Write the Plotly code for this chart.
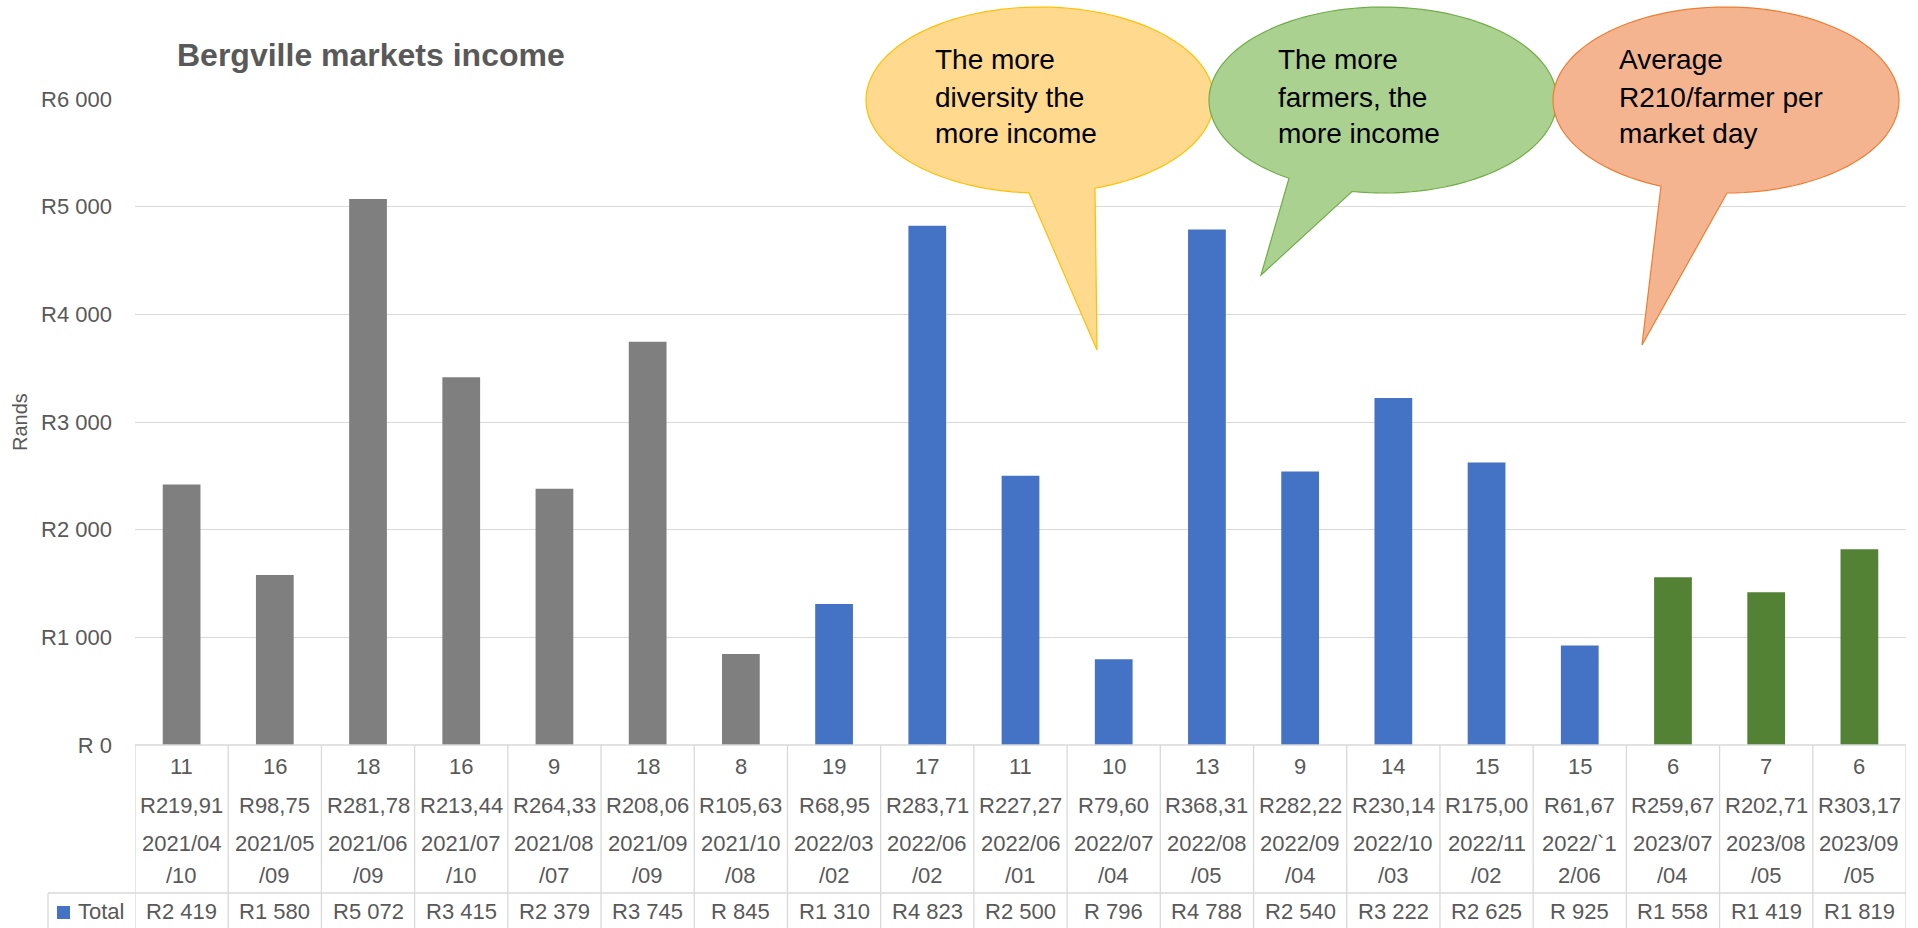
import math
import plotly.graph_objects as go

# ---------------- data ----------------
farmers = [11, 16, 18, 16, 9, 18, 8, 19, 17, 11, 10, 13, 9, 14, 15, 15, 6, 7, 6]
per_farmer = ["R219,91", "R98,75", "R281,78", "R213,44", "R264,33", "R208,06", "R105,63",
              "R68,95", "R283,71", "R227,27", "R79,60", "R368,31", "R282,22", "R230,14",
              "R175,00", "R61,67", "R259,67", "R202,71", "R303,17"]
dates = ["2021/04/10", "2021/05/09", "2021/06/09", "2021/07/10", "2021/08/07", "2021/09/09",
         "2021/10/08", "2022/03/02", "2022/06/02", "2022/06/01", "2022/07/04", "2022/08/05",
         "2022/09/04", "2022/10/03", "2022/11/02", "2022/`12/06", "2023/07/04", "2023/08/05",
         "2023/09/05"]
totals = [2419, 1580, 5072, 3415, 2379, 3745, 845, 1310, 4823, 2500, 796, 4788, 2540, 3222,
          2625, 925, 1558, 1419, 1819]
periods = ["2021"] * 7 + ["2022"] * 9 + ["2023"] * 3
period_colors = {"2021": "#7F7F7F", "2022": "#4472C4", "2023": "#548235"}
tick_vals = [0, 1000, 2000, 3000, 4000, 5000, 6000]
tick_text = ["R 0", "R1 000", "R2 000", "R3 000", "R4 000", "R5 000", "R6 000"]
title_text = "Bergville markets income"
yaxis_title = "Rands"
legend_name = "Total"
callouts = [
    ["The more", "diversity the", "more income"],
    ["The more", "farmers, the", "more income"],
    ["Average", "R210/farmer per", "market day"],
]


def fmt_rand(v):
    return f"R{v // 1000} {v % 1000:03d}" if v >= 1000 else f"R {v}"


total_labels = [fmt_rand(v) for v in totals]

# ---------------- layout geometry (pixels) ----------------
W, H = 1918, 928
PL, PR, PT, PB = 135, 1906, 99, 745
TXT = "#595959"
GRID = "#D9D9D9"
FONT = "Liberation Sans, Arial, sans-serif"


def px(x):
    return (x - PL) / (PR - PL)


def py(y):
    return (PB - y) / (PB - PT)


n = len(totals)
xs = list(range(n))

fig = go.Figure()
fig.add_trace(go.Bar(
    x=xs, y=totals, name=legend_name,
    marker=dict(color=[period_colors[p] for p in periods], line=dict(width=0)),
    showlegend=False, hoverinfo="y",
))

annotations = []
shapes = []

# table cell texts
for i in xs:
    d = dates[i]
    rows = [(str(farmers[i]), 766), (per_farmer[i], 805), (d[:7], 843), (d[7:], 875),
            (total_labels[i], 912)]
    for txt, yy in rows:
        annotations.append(dict(
            x=i, xref="x", y=py(yy), yref="paper", text=txt, showarrow=False,
            xanchor="center", yanchor="middle", font=dict(family=FONT, size=22, color=TXT)))

# table grid lines
for i in range(n + 1):
    shapes.append(dict(type="line", xref="x", yref="paper", x0=i - 0.5, x1=i - 0.5,
                       y0=py(H), y1=py(PB), line=dict(color=GRID, width=1.3), layer="below"))
shapes.append(dict(type="line", xref="paper", yref="paper", x0=px(48), x1=1,
                   y0=py(893), y1=py(893), line=dict(color=GRID, width=1.3)))
shapes.append(dict(type="line", xref="paper", yref="paper", x0=px(48), x1=px(48),
                   y0=py(893), y1=py(H), line=dict(color=GRID, width=1.3)))
shapes.append(dict(type="line", xref="paper", yref="paper", x0=0, x1=1,
                   y0=py(PB), y1=py(PB), line=dict(color=GRID, width=1.5)))

# legend key
shapes.append(dict(type="rect", xref="paper", yref="paper", x0=px(57), x1=px(70),
                   y0=py(919), y1=py(906), fillcolor="#4472C4", line=dict(width=0)))
annotations.append(dict(x=px(76), y=py(912), xref="paper", yref="paper", text=legend_name,
                        showarrow=False, xanchor="left", yanchor="middle",
                        font=dict(family=FONT, size=22, color=TXT)))

# title and axis title
annotations.append(dict(x=px(175), y=py(55), xref="paper", yref="paper",
                        text=f"<b>{title_text}</b>", showarrow=False, xanchor="left",
                        yanchor="middle", font=dict(family=FONT, size=32, color=TXT)))
annotations.append(dict(x=px(20), y=py(422), xref="paper", yref="paper", text=yaxis_title,
                        showarrow=False, textangle=-90, xanchor="center", yanchor="middle",
                        font=dict(family=FONT, size=20, color=TXT)))


# speech bubbles
def bubble(cx, cy, rx, ry, a1, a2, tip, fill, edge):
    tA = math.acos((a1 - cx) / rx)
    tB = math.acos((a2 - cx) / rx)
    span = 2 * math.pi - (tA - tB)
    pts = []
    steps = 120
    for k in range(steps + 1):
        t = tB - span * k / steps
        pts.append((cx + rx * math.cos(t), cy + ry * math.sin(t)))
    pts.append(tip)
    path = "M " + " L ".join(f"{px(x):.5f},{py(y):.5f}" for x, y in pts) + " Z"
    return dict(type="path", xref="paper", yref="paper", path=path, fillcolor=fill,
                line=dict(color=edge, width=1.2), layer="above")


shapes.append(bubble(1040, 100, 174, 93, 1029, 1095, (1097, 350), "#FED98E", "#FFC000"))
shapes.append(bubble(1383, 100, 174, 93, 1289, 1352, (1261, 275), "#ABD191", "#70AD47"))
shapes.append(bubble(1726, 100, 173, 93, 1661, 1727, (1642, 345), "#F4B490", "#ED7D31"))

text_x = [933, 1276, 1617]
line_y = [60, 98, 134]
for lines, tx in zip(callouts, text_x):
    for ln, yy in zip(lines, line_y):
        annotations.append(dict(x=px(tx), y=py(yy), xref="paper", yref="paper", text=ln,
                                showarrow=False, xanchor="left", yanchor="middle",
                                font=dict(family=FONT, size=28, color="#000000")))

fig.update_layout(
    width=W, height=H,
    margin=dict(l=PL, r=W - PR, t=PT, b=H - PB, pad=0),
    paper_bgcolor="white", plot_bgcolor="white",
    bargap=0.595,
    xaxis=dict(range=[-0.5, n - 0.5], showticklabels=False, showgrid=False,
               zeroline=False, showline=False, ticks=""),
    yaxis=dict(range=[0, 6000], tickvals=tick_vals, ticktext=tick_text,
               gridcolor=GRID, gridwidth=1.3, zeroline=False, showline=False, ticks="",
               ticklabelstandoff=22, tickfont=dict(family=FONT, size=22, color=TXT)),
    annotations=annotations,
    shapes=shapes,
    showlegend=False,
)

fig.write_html("out.html")
